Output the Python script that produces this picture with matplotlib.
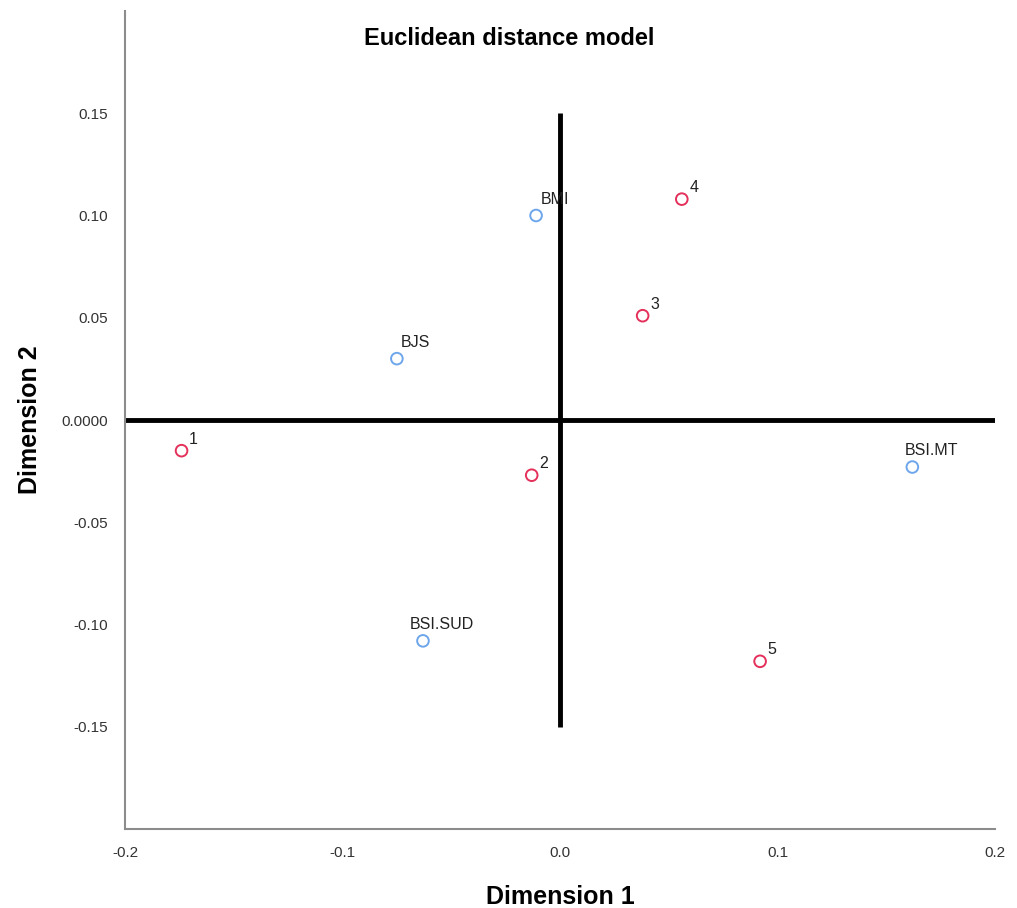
import matplotlib
matplotlib.use("Agg")
import matplotlib.pyplot as plt

plt.rcParams['font.family'] = ['Liberation Sans', 'DejaVu Sans']

# subject weights (red) and stimulus coordinates (blue)
subj_labels = ['1', '2', '3', '4', '5']
subj_x = [-0.174, -0.013, 0.038, 0.056, 0.092]
subj_y = [-0.015, -0.027, 0.051, 0.108, -0.118]

stim_labels = ['BMI', 'BJS', 'BSI.SUD', 'BSI.MT']
stim_x = [-0.011, -0.075, -0.063, 0.162]
stim_y = [0.100, 0.030, -0.108, -0.023]

xticks = [-0.2, -0.1, 0.0, 0.1, 0.2]
yticks = [-0.15, -0.10, -0.05, 0.0, 0.05, 0.10, 0.15]
ytick_labels = ['-0.15', '-0.10', '-0.05', '0.0000', '0.05', '0.10', '0.15']

fig = plt.figure(figsize=(10.17, 9.08), dpi=100)
ax = fig.add_axes([125 / 1017, 79 / 908, 870 / 1017, 818 / 908])
ax.set_xlim(-0.2, 0.2)
ax.set_ylim(-0.2, 0.2)

# reference lines through the origin
ax.plot([-0.2, 0.2], [0, 0], color='black', lw=3.5, zorder=1, solid_capstyle='butt')
ax.plot([0, 0], [-0.15, 0.15], color='black', lw=3.5, zorder=1, solid_capstyle='butt')

ax.scatter(subj_x, subj_y, s=70, facecolors='none', edgecolors='#e4305a', linewidths=1.4, zorder=3)
ax.scatter(stim_x, stim_y, s=70, facecolors='none', edgecolors='#6ea6ec', linewidths=1.4, zorder=3)

for lab, x, y in zip(subj_labels, subj_x, subj_y):
    ax.annotate(lab, (x, y), xytext=(5.5, 5), textcoords='offset points',
                fontsize=11.5, ha='left', va='baseline', color='#222222')
for lab, x, y in zip(stim_labels, stim_x, stim_y):
    ax.annotate(lab, (x, y), xytext=(13.5, 8.6), textcoords='offset points',
                fontsize=11.5, ha='center', va='baseline', color='#222222')

ax.set_xticks(xticks)
ax.set_xticklabels(['-0.2', '-0.1', '0.0', '0.1', '0.2'])
ax.set_yticks(yticks)
ax.set_yticklabels(ytick_labels)
ax.tick_params(length=0, labelsize=11, colors='#333333', pad=12)

for side in ['top', 'right']:
    ax.spines[side].set_visible(False)
for side in ['left', 'bottom']:
    ax.spines[side].set_color('#8c8c8c')
    ax.spines[side].set_linewidth(1.5)

ax.set_xlabel('Dimension 1', fontsize=18, fontweight='bold', labelpad=18)
ax.set_ylabel('Dimension 2', fontsize=18, fontweight='bold', labelpad=14)
ax.text(-0.0235, 0.1866, 'Euclidean distance model', fontsize=17, fontweight='bold',
        ha='center', va='center')

fig.savefig('out.png', dpi=100)
